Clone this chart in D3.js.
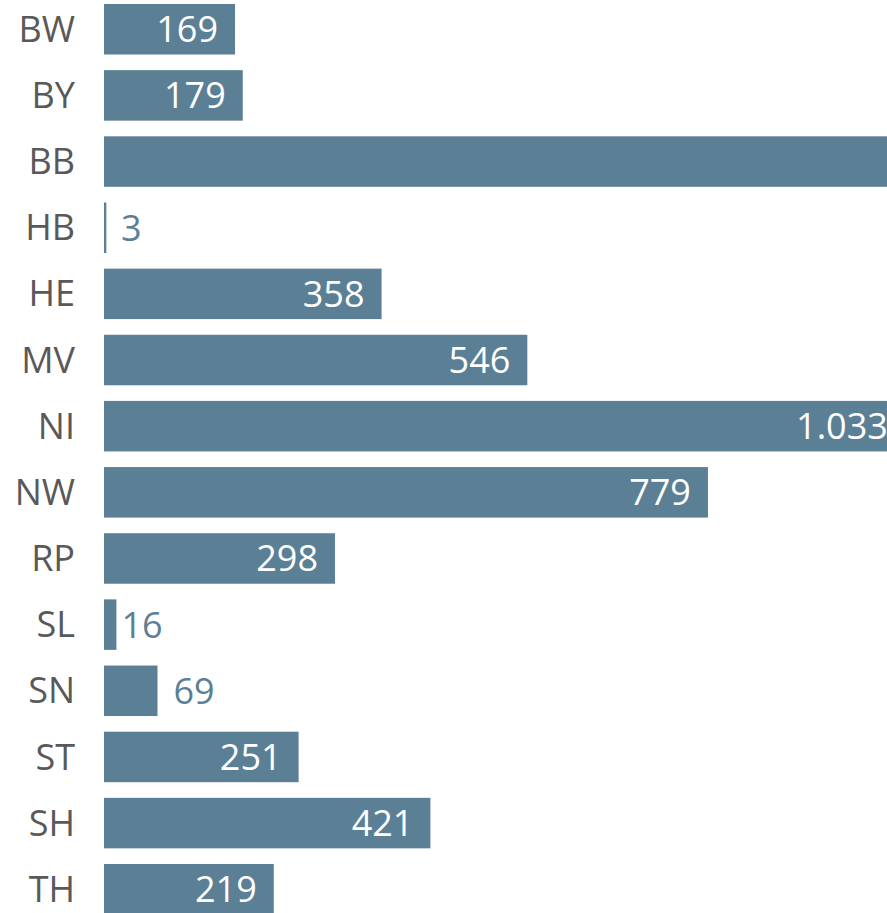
<!DOCTYPE html>
<html>
<head>
<meta charset="utf-8">
<script src="https://cdn.jsdelivr.net/npm/d3@7"></script>
<style>
  html, body { margin: 0; padding: 0; background: #fff; overflow: hidden; }
  svg { display: block; }
</style>
</head>
<body>
<svg id="chart" width="887" height="913"></svg>
<script>
const categories = ["BW","BY","BB","HB","HE","MV","NI","NW","RP","SL","SN","ST","SH","TH"];
const values = [169, 179, 1300, 3, 358, 546, 1033, 779, 298, 16, 69, 251, 421, 219];

const W = 887, H = 913;
const barColor = "#5b7f95";
const fontFamily = "'Open Sans', 'Noto Sans', sans-serif";
const fmt = d3.formatLocale({decimal: ",", thousands: ".", grouping: [3], currency: ["", "€"]}).format(",d");

const svg = d3.select("#chart");

const x = d3.scaleLinear().domain([0, 1033]).range([104, 104 + 1033 * 0.7753]);
const y = d3.scaleBand().domain(categories).range([4, 914.5]).paddingInner(0.2366).paddingOuter(0);

const data = categories.map((c, i) => ({c, v: values[i]}));

svg.append("g").selectAll("rect").data(data).join("rect")
  .attr("x", x(0))
  .attr("y", d => y(d.c))
  .attr("width", d => Math.max(1.5, x(d.v) - x(0)))
  .attr("height", y.bandwidth())
  .attr("fill", barColor);

// category labels
svg.append("g").selectAll("text").data(data).join("text")
  .attr("x", 75)
  .attr("y", d => y(d.c) + y.bandwidth() / 2)
  .attr("dy", "0.35em")
  .attr("text-anchor", "end")
  .attr("font-family", fontFamily)
  .attr("font-size", 36)
  .attr("fill", "#595959")
  .text(d => d.c);

// value labels (labels whose anchor lies beyond the visible area are not shown, as in the reference)
const labelX = d => {
  const end = x(d.v);
  if (d.v >= 100) return end - 17;
  return d.v >= 50 ? end + 16 : Math.max(end + 5, 121);
};
svg.append("g").selectAll("text").data(data.filter(d => labelX(d) <= W + 5)).join("text")
  .attr("x", labelX)
  .attr("y", d => y(d.c) + y.bandwidth() / 2)
  .attr("dy", "0.36em")
  .attr("text-anchor", d => d.v >= 100 ? "end" : "start")
  .attr("font-family", fontFamily)
  .attr("font-size", 36)
  .attr("fill", d => d.v >= 100 ? "#ffffff" : barColor)
  .text(d => fmt(d.v));
</script>
</body>
</html>
